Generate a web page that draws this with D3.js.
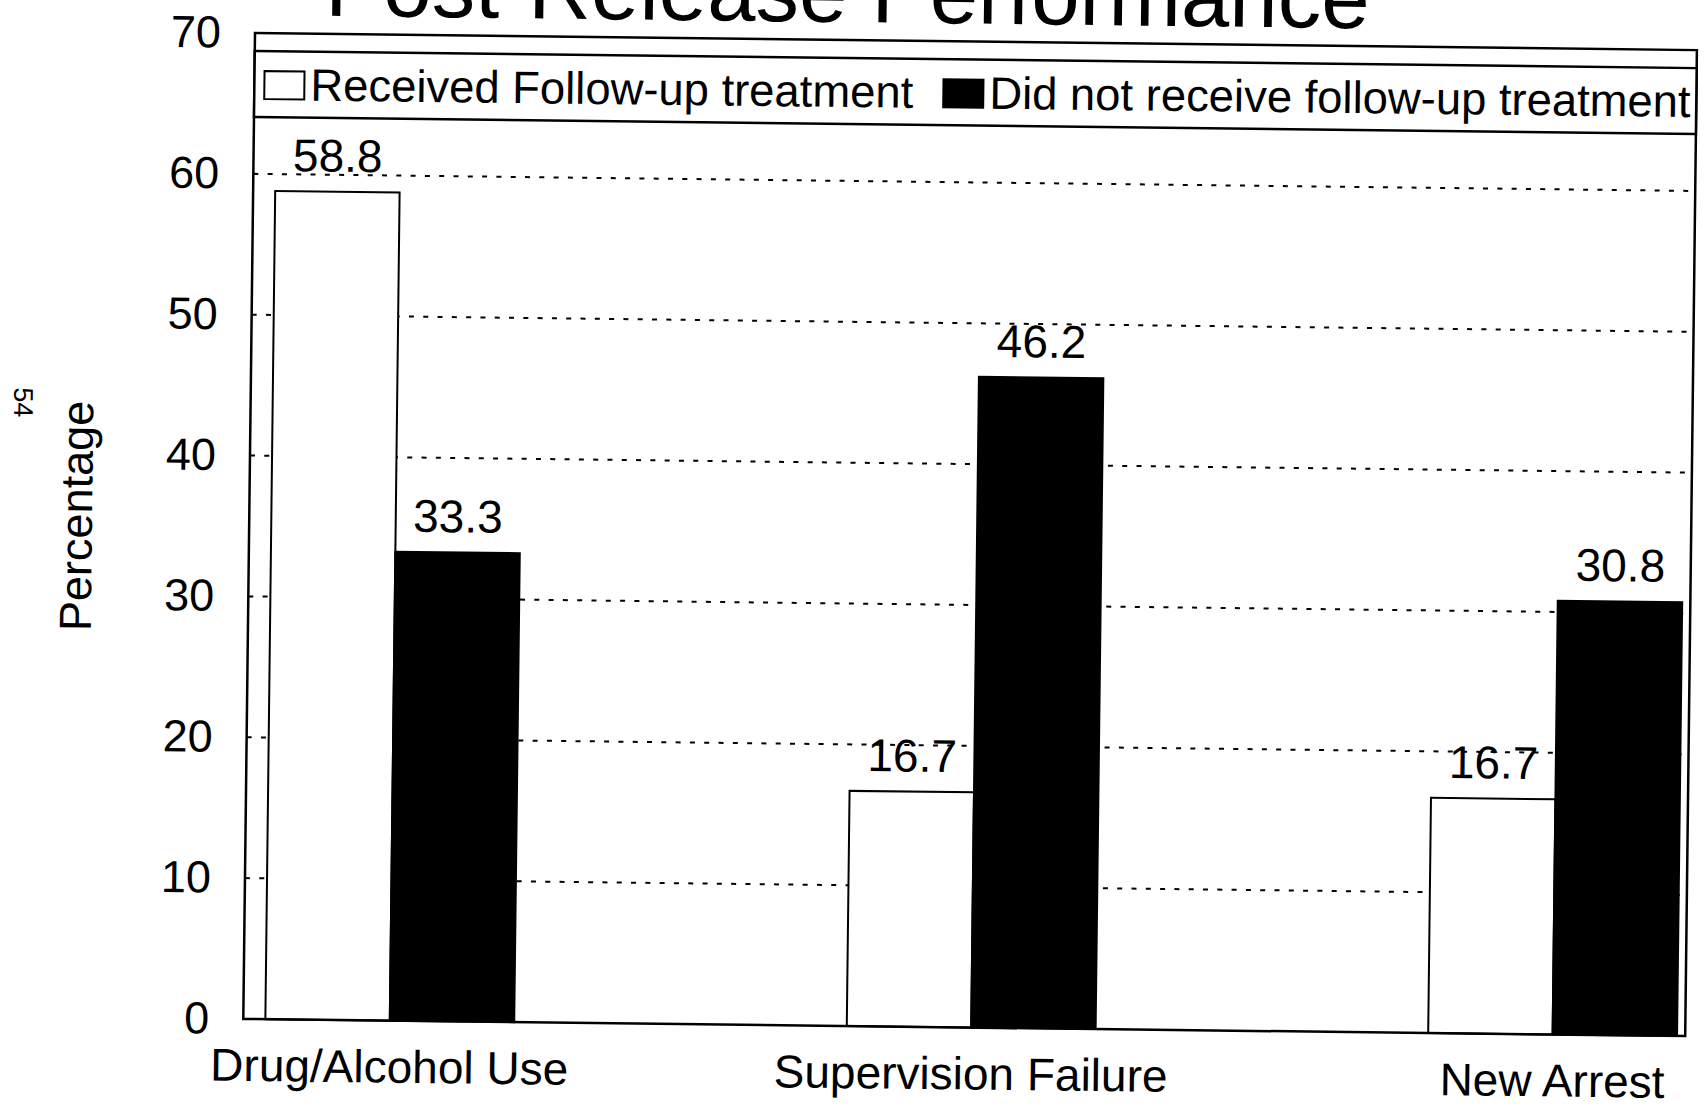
<!DOCTYPE html>
<html>
<head>
<meta charset="utf-8">
<script src="https://cdn.jsdelivr.net/npm/d3@7"></script>
<style>
  body { margin: 0; background: #fff; }
  text { font-family: "Liberation Sans", Arial, sans-serif; fill: #000; }
</style>
</head>
<body>
<svg id="myGraph" width="1705" height="1104"></svg>
<script>
var categories = ["Drug/Alcohol Use", "Supervision Failure", "New Arrest"];
var seriesNames = ["Received Follow-up treatment", "Did not receive follow-up treatment"];
var received = [58.8, 16.7, 16.7];
var notReceived = [33.3, 46.2, 30.8];
var yTicks = [0, 10, 20, 30, 40, 50, 60, 70];
var gridTicks = [10, 20, 30, 40, 50, 60];
var titleText = "Post-Release Performance";
var yTitle = "Percentage";
var pageNo = "54";

var W = 1442, H = 986;

var svg = d3.select("#myGraph");
svg.append("rect").attr("width", 1705).attr("height", 1104).attr("fill", "#fff");

// the scan is tilted a little, so the whole chart is too
var g = svg.append("g")
    .attr("transform", "translate(255,33) rotate(0.68)");

var x0 = d3.scaleBand()
    .domain(categories)
    .range([0, W])
    .paddingInner(0.572)
    .paddingOuter(0.026)
    .align(0.73);

var x1 = d3.scaleBand()
    .domain([0, 1])
    .range([0, x0.bandwidth()]);

var y = d3.scaleLinear()
    .domain([0, 70])
    .range([H, 0]);

// title (mostly cut off at the top)
g.append("text")
    .attr("x", W / 2 - 129)
    .attr("y", -18)
    .attr("text-anchor", "middle")
    .style("font-size", "87px")
    .text(titleText);

// dashed grid
g.selectAll(".grid")
    .data(gridTicks)
    .enter()
    .append("line")
    .attr("class", "grid")
    .attr("x1", 0)
    .attr("x2", W)
    .attr("y1", function(d) { return y(d); })
    .attr("y2", function(d) { return y(d); })
    .attr("stroke", "#000")
    .attr("stroke-width", 2)
    .attr("stroke-dasharray", "5,9.3");

// y axis labels
var yAxis = d3.axisLeft(y)
    .tickValues(yTicks)
    .tickSize(0)
    .tickPadding(34);

g.append("g")
    .call(yAxis)
    .call(function(a) { a.select(".domain").remove(); })
    .selectAll("text")
    .style("font-size", "45px")
    .style("font-family", "'Liberation Sans', Arial, sans-serif");

// bars
var rows = categories.map(function(c, i) {
    return { cat: c, vals: [received[i], notReceived[i]] };
});

var groups = g.selectAll(".grp")
    .data(rows)
    .enter()
    .append("g")
    .attr("class", "grp")
    .attr("transform", function(d) { return "translate(" + x0(d.cat) + ",0)"; });

groups.selectAll("rect")
    .data(function(d) { return d.vals; })
    .enter()
    .append("rect")
    .attr("x", function(d, i) { return x1(i); })
    .attr("y", function(d) { return y(d); })
    .attr("width", x1.bandwidth())
    .attr("height", function(d) { return H - y(d); })
    .attr("fill", function(d, i) { return i === 0 ? "#fff" : "#000"; })
    .attr("stroke", "#000")
    .attr("stroke-width", 2);

groups.selectAll(".val")
    .data(function(d) { return d.vals; })
    .enter()
    .append("text")
    .attr("class", "val")
    .attr("x", function(d, i) { return x1(i) + x1.bandwidth() / 2; })
    .attr("y", function(d) { return y(d) - 20; })
    .attr("text-anchor", "middle")
    .style("font-size", "46px")
    .text(function(d) { return d.toFixed(1); });

// category labels
g.selectAll(".cat")
    .data(categories)
    .enter()
    .append("text")
    .attr("class", "cat")
    .attr("x", function(d) { return x0(d) + x0.bandwidth() / 2; })
    .attr("y", H + 62)
    .attr("text-anchor", "middle")
    .style("font-size", "46px")
    .text(function(d) { return d; });

// frame
g.append("rect")
    .attr("x", 0).attr("y", 0)
    .attr("width", W).attr("height", H)
    .attr("fill", "none")
    .attr("stroke", "#000")
    .attr("stroke-width", 2.5);

// legend box across the top
var leg = g.append("g").attr("transform", "translate(0,18)");
leg.append("rect")
    .attr("width", W).attr("height", 66)
    .attr("fill", "#fff")
    .attr("stroke", "#000")
    .attr("stroke-width", 2.5);

var legX = [10, 689];
leg.selectAll(".sw")
    .data(seriesNames)
    .enter()
    .append("rect")
    .attr("class", "sw")
    .attr("x", function(d, i) { return legX[i]; })
    .attr("y", 20)
    .attr("width", 40)
    .attr("height", 28)
    .attr("fill", function(d, i) { return i === 0 ? "#fff" : "#000"; })
    .attr("stroke", "#000")
    .attr("stroke-width", 2);

leg.selectAll(".lt")
    .data(seriesNames)
    .enter()
    .append("text")
    .attr("class", "lt")
    .attr("x", function(d, i) { return legX[i] + 46; })
    .attr("y", 49)
    .style("font-size", "45.4px")
    .text(function(d) { return d; });

// axis title and page number
g.append("text")
    .attr("transform", "translate(-173,485) rotate(-90)")
    .attr("text-anchor", "middle")
    .attr("dy", "0.35em")
    .style("font-size", "45px")
    .text(yTitle);

g.append("text")
    .attr("transform", "translate(-227,372) rotate(90)")
    .attr("text-anchor", "middle")
    .attr("dy", "0.35em")
    .style("font-size", "27px")
    .text(pageNo);
</script>
</body>
</html>
